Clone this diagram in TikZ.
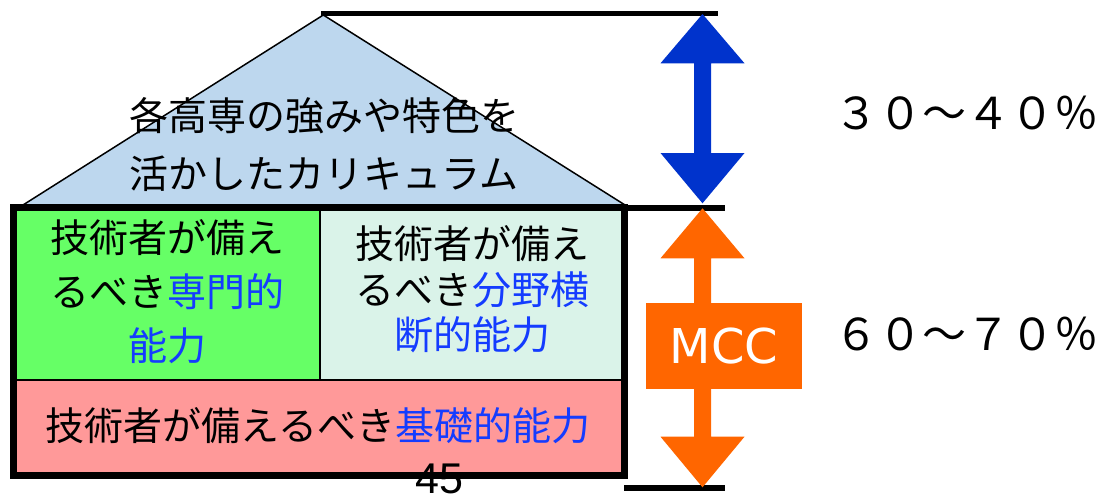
\documentclass[tikz,border=0pt]{standalone}
\usepackage{fontspec}
\newfontfamily\jp{Noto Sans CJK JP}
\newfontfamily\mccfont{DejaVu Sans}
\newfontfamily\numfont{Liberation Sans}
\definecolor{roofc}{RGB}{189,215,238}
\definecolor{greenc}{RGB}{102,255,102}
\definecolor{mintc}{RGB}{218,243,233}
\definecolor{pinkc}{RGB}{255,153,153}
\definecolor{jblue}{RGB}{20,60,255}
\definecolor{arrblue}{RGB}{0,51,204}
\definecolor{arrorange}{RGB}{255,102,0}
\tikzset{
  jtext/.style={inner sep=0pt, align=center, text=black},
  cellfill/.style={draw=black, line width=2pt},
  bar/.style={line width=6pt, black},
}
\begin{document}
\begin{tikzpicture}[x=1pt,y=-1pt]
\useasboundingbox (0,0) rectangle (1099,495);
% roof
\coordinate (apex) at (323.3,15);
\coordinate (roofL) at (23,205);
\coordinate (roofR) at (625,205);
\filldraw[fill=roofc, draw=black, line width=1.5pt, line join=miter] (roofL) -- (apex) -- (roofR);
\node[jtext, font=\jp\fontsize{39}{58}\selectfont] (rooftext) at (324,145) {各高専の強みや特色を\\活かしたカリキュラム};
% cells
\fill[greenc] (16.7,210) rectangle (320,380);
\fill[mintc] (320,210) rectangle (621,380);
\fill[pinkc] (16.7,380) rectangle (621,472);
\draw[line width=2pt] (320,210) -- (320,380);
\draw[line width=2pt] (16.7,380) -- (621,380);
\draw[line width=6.7pt] (13.4,207.2) rectangle (624.7,475.3);
\node[jtext, font=\jp\fontsize{39}{54}\selectfont] (spec) at (167,292) {技術者が備え\\るべき\textcolor{jblue}{専門的}\\\textcolor{jblue}{能力}};
\node[jtext, font=\jp\fontsize{39}{45.5}\selectfont] (cross) at (472,289.5) {技術者が備え\\るべき\textcolor{jblue}{分野横}\\\textcolor{jblue}{断的能力}};
\node[jtext, font=\jp\fontsize{39}{47}\selectfont] (base) at (318,425.5) {技術者が備えるべき\textcolor{jblue}{基礎的能力}};
\node[inner sep=0pt, anchor=base, font=\numfont\fontsize{43}{50}\selectfont] (pagenum) at (439,493) {45};
% horizontal bars
\coordinate (topR) at (718,13.3);
\coordinate (midL) at (620,208);
\coordinate (midR) at (725,208);
\coordinate (botL) at (624.3,487.6);
\coordinate (botR) at (725,487.6);
\draw[line width=5.5pt] (apex |- topR) ++(-2,0) -- (topR);
\draw[bar] (midL) -- (midR);
\draw[bar] (botL) -- (botR);
% blue double arrow
\fill[arrblue] (702.5,14) -- (744.5,63.3) -- (711,63.3) -- (711,153) -- (744.5,153) -- (702.5,203.3) -- (660.5,153) -- (694,153) -- (694,63.3) -- (660.5,63.3) -- cycle;
% orange double arrow
\fill[arrorange] (702.5,208.3) -- (744.5,258.3) -- (711,258.3) -- (711,436.7) -- (744.5,436.7) -- (702.5,487.3) -- (660.5,436.7) -- (694,436.7) -- (694,258.3) -- (660.5,258.3) -- cycle;
\node[fill=arrorange, inner sep=0pt, minimum width=156pt, minimum height=86.6pt, text=white, font=\mccfont\fontsize{48}{50}\selectfont] (mcc) at (724,346) {MCC};
% percentages
\node[jtext, font=\jp\fontsize{44}{50}\selectfont] (upper) at (966,113) {３０～４０％};
\node[jtext, font=\jp\fontsize{44}{50}\selectfont] (lower) at (966,334) {６０～７０％};
\end{tikzpicture}
\end{document}
